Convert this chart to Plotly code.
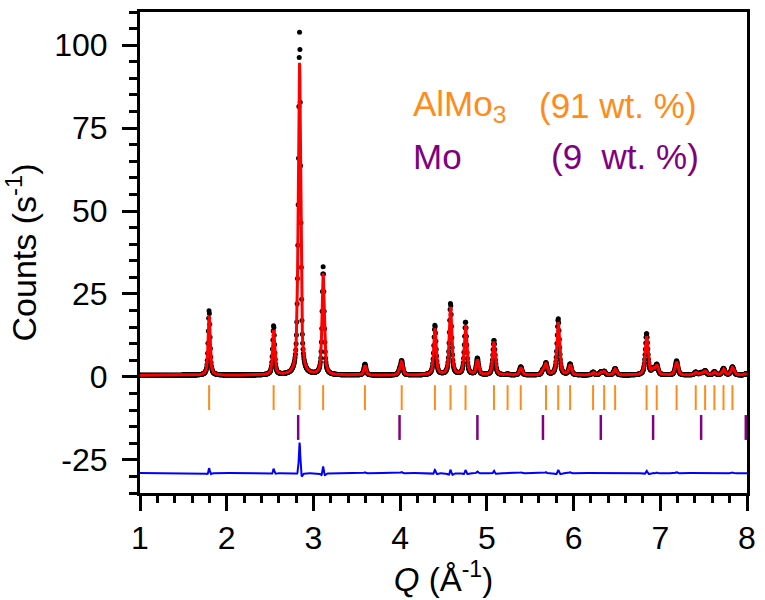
import numpy as np
import plotly.graph_objects as go

# Bragg reflection positions (Å^-1) of the two refined phases
almo3_q = [1.797, 2.541, 2.841, 3.112, 3.594, 4.018, 4.401, 4.581, 4.754, 5.082,
           5.239, 5.391, 5.682, 5.823, 5.960, 6.225, 6.353, 6.479, 6.842, 6.959,
           7.188, 7.409, 7.517, 7.624, 7.729, 7.832]
mo_q = [2.824, 3.993, 4.891, 5.647, 6.314, 6.917, 7.471, 7.986]

# Peak maxima (counts/s): refined model and measured pattern
almo3_calc = [18.0, 13.5, 89.0, 30.5, 3.0, 3.8, 14.0, 20.5, 15.0, 9.8,
              0.3, 2.3, 3.2, 16.0, 3.0, 0.8, 1.0, 1.8, 11.8, 2.8,
              4.0, 0.8, 1.2, 0.9, 1.8, 2.3]
almo3_obs = [19.5, 14.8, 98.0, 32.5, 3.3, 4.2, 15.0, 21.5, 16.0, 10.5,
             0.3, 2.5, 3.5, 17.0, 3.3, 0.9, 1.1, 2.0, 12.5, 3.0,
             4.3, 0.9, 1.3, 1.0, 2.0, 2.5]
mo_calc = [12.0, 1.0, 4.5, 1.2, 0.8, 1.5, 0.6, 0.4]
mo_obs = [14.0, 1.1, 5.0, 1.3, 0.9, 1.6, 0.7, 0.4]

background = 0.5
resid_offset = -29.0

x_ticks = [1, 2, 3, 4, 5, 6, 7, 8]
y_ticks = [-25, 0, 25, 50, 75, 100]
y_ticktext = ["-25", "0", "25", "50", "75", "100"]

ORANGE = "#FF8C1A"
PURPLE = "#800080"
FONT = "Liberation Sans, Arial, sans-serif"

# Q grid of the measurement
q = np.arange(1.0, 8.0 + 1e-9, 0.004)


def pseudo_voigt(x, x0, fwhm, eta=0.65):
    t = (x - x0) / fwhm
    lor = 1.0 / (1.0 + 4.0 * t ** 2)
    gau = np.exp(-4.0 * np.log(2) * t ** 2)
    return eta * lor + (1 - eta) * gau


def pattern(positions, heights, width_scale=1.0):
    y = np.zeros_like(q)
    for q0, h in zip(positions, heights):
        fwhm = (0.024 + 0.002 * q0) * width_scale
        y += h * pseudo_voigt(q, q0, fwhm)
    return y


calc = background + pattern(almo3_q, almo3_calc) + pattern(mo_q, mo_calc)
obs = background + pattern(almo3_q, almo3_obs, 0.93) + pattern(mo_q, mo_obs, 0.93)
resid = obs - calc + resid_offset


def tick_segments(positions, y_lo, y_hi):
    xs, ys = [], []
    for p in positions:
        xs += [p, p, None]
        ys += [y_lo, y_hi, None]
    return xs, ys


fig = go.Figure()
fig.add_trace(go.Scatter(x=q, y=obs, mode="markers",
                         marker=dict(color="black", size=5), name="observed"))
fig.add_trace(go.Scatter(x=q, y=calc, mode="lines",
                         line=dict(color="red", width=3), name="calculated"))
fig.add_trace(go.Scatter(x=q, y=resid, mode="lines",
                         line=dict(color="blue", width=2), name="difference"))
ax, ay = tick_segments(almo3_q, -2.5, -10.0)
fig.add_trace(go.Scatter(x=ax, y=ay, mode="lines",
                         line=dict(color=ORANGE, width=2), name="AlMo3"))
mx, my = tick_segments(mo_q, -11.5, -19.0)
fig.add_trace(go.Scatter(x=mx, y=my, mode="lines",
                         line=dict(color=PURPLE, width=2.5), name="Mo"))

axis_common = dict(showgrid=False, zeroline=False, showline=True, linecolor="black",
                   linewidth=3, mirror=True, ticks="outside", ticklen=15, tickwidth=3,
                   tickcolor="black", tickfont=dict(family=FONT, size=32, color="black"))

fig.update_xaxes(range=[1, 8], tickvals=x_ticks,
                 minor=dict(ticks="outside", ticklen=7, tickwidth=2.5, tickcolor="black",
                            dtick=0.2, tick0=1, showgrid=False),
                 title=dict(text="<i>Q</i> (Å<sup>-1</sup>)",
                            font=dict(family=FONT, size=33, color="black"), standoff=2),
                 **axis_common)
fig.update_yaxes(range=[-35, 110], tickvals=y_ticks, ticktext=y_ticktext,
                 ticklabelstandoff=8,
                 minor=dict(ticks="outside", ticklen=8, tickwidth=2.5, tickcolor="black",
                            dtick=5, tick0=0, showgrid=False),
                 title=dict(text="Counts (s<sup>-1</sup>)",
                            font=dict(family=FONT, size=34, color="black"), standoff=10),
                 **axis_common)

ann_font = dict(family=FONT, size=35)
fig.add_annotation(x=4.13, y=81.8, text="AlMo<sub>3</sub>", showarrow=False,
                   xanchor="left", yanchor="middle", font=dict(color=ORANGE, **ann_font))
fig.add_annotation(x=7.45, y=81.8, text="(91 wt. %)", showarrow=False,
                   xanchor="right", yanchor="middle", font=dict(color=ORANGE, **ann_font))
fig.add_annotation(x=4.13, y=66.3, text="Mo", showarrow=False,
                   xanchor="left", yanchor="middle", font=dict(color=PURPLE, **ann_font))
fig.add_annotation(x=7.47, y=66.3, text="(9\u00a0\u00a0wt. %)", showarrow=False,
                   xanchor="right", yanchor="middle", font=dict(color=PURPLE, **ann_font))

fig.update_layout(width=765, height=600, showlegend=False,
                  margin=dict(l=140, r=12, t=9, b=107),
                  plot_bgcolor="white", paper_bgcolor="white")

fig.write_html("out.html")
